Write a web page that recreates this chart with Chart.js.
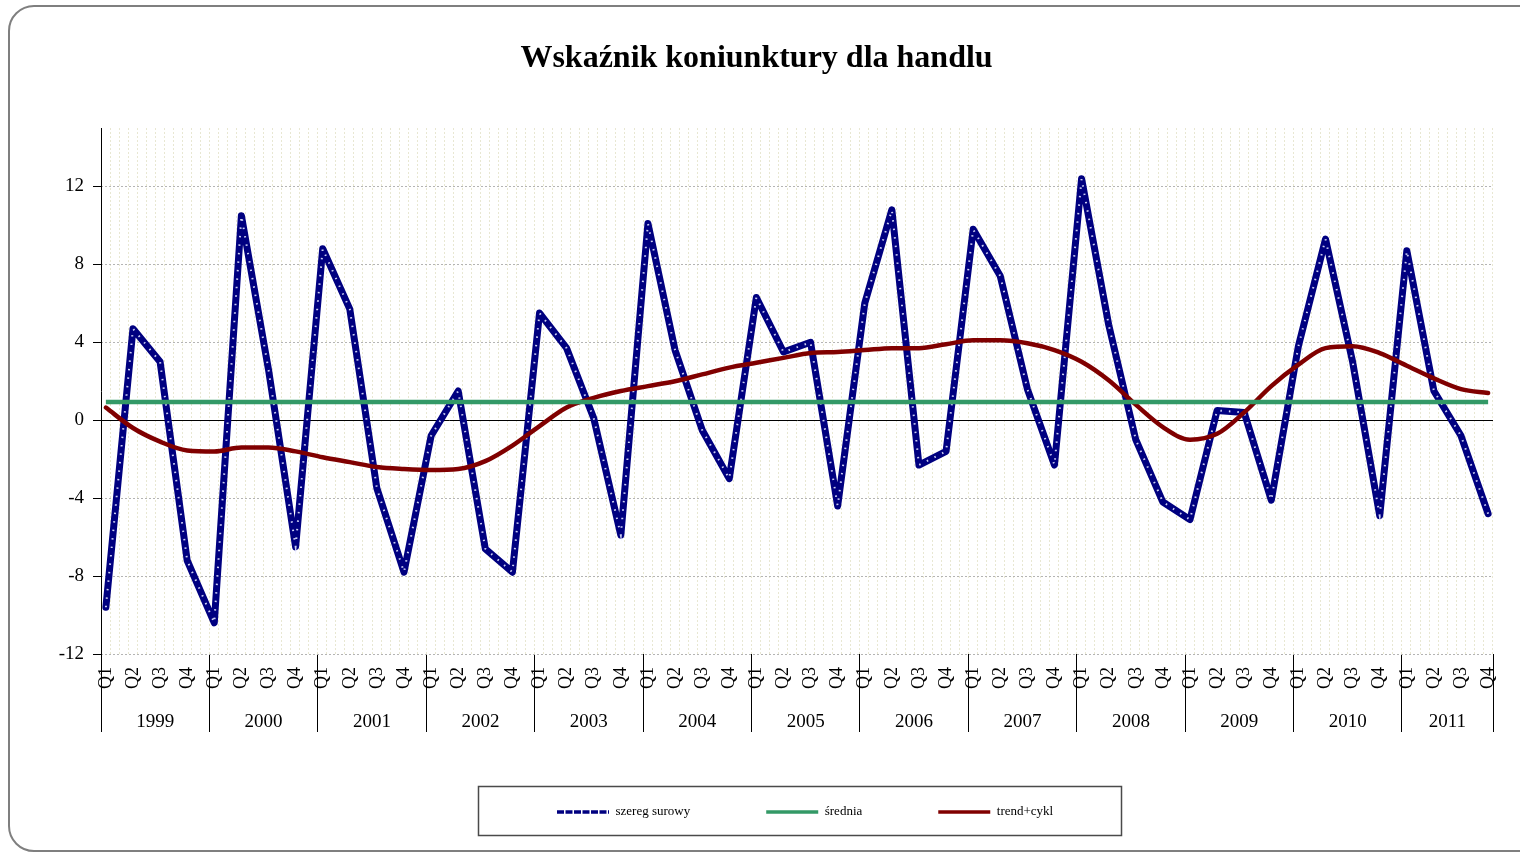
<!DOCTYPE html>
<html>
<head>
<meta charset="utf-8">
<script src="https://cdn.jsdelivr.net/npm/chart.js@4.4.1/dist/chart.umd.min.js"></script>
<style>
html, body { margin: 0; padding: 0; background: #fff; overflow: hidden; }
#frame { position: absolute; left: 8px; top: 5px; width: 1540px; height: 847px; box-sizing: border-box; border: 2px solid #7f7f7f; border-radius: 26px; }
#wrap { position: absolute; left: 0; top: 0; width: 1520px; height: 852px; }
</style>
</head>
<body>
<div id="frame"></div>
<div id="wrap"><canvas id="chart1" width="1520" height="852"></canvas></div>
<script>
var years = ['1999', '2000', '2001', '2002', '2003', '2004', '2005', '2006', '2007', '2008', '2009', '2010', '2011'];
var quarterNames = ['Q1', 'Q2', 'Q3', 'Q4'];

// szereg surowy
var surowy = [-9.6, 4.7, 3.0, -7.2, -10.4, 10.5, 2.6, -6.5, 8.8, 5.7, -3.5, -7.8,
              -0.8, 1.5, -6.6, -7.8, 5.5, 3.7, 0.1, -5.9, 10.1, 3.6, -0.5, -3.0,
              6.3, 3.5, 4.0, -4.4, 6.0, 10.8, -2.3, -1.6, 9.8, 7.4, 1.6, -2.3,
              12.4, 4.9, -1.0, -4.2, -5.1, 0.5, 0.4, -4.1, 3.8, 9.3, 3.0, -4.9,
              8.7, 1.5, -0.8, -4.8];

// srednia
var srednia = [0.94, 0.94, 0.94, 0.94, 0.94, 0.94, 0.94, 0.94, 0.94, 0.94, 0.94, 0.94,
               0.94, 0.94, 0.94, 0.94, 0.94, 0.94, 0.94, 0.94, 0.94, 0.94, 0.94, 0.94,
               0.94, 0.94, 0.94, 0.94, 0.94, 0.94, 0.94, 0.94, 0.94, 0.94, 0.94, 0.94,
               0.94, 0.94, 0.94, 0.94, 0.94, 0.94, 0.94, 0.94, 0.94, 0.94, 0.94, 0.94,
               0.94, 0.94, 0.94, 0.94];

// trend+cykl
var trendCykl = [0.65, -0.4, -1.1, -1.55, -1.6, -1.4, -1.4, -1.6, -1.9, -2.15, -2.4, -2.5,
                 -2.55, -2.5, -2.1, -1.3, -0.3, 0.65, 1.15, 1.5, 1.75, 2.0, 2.35, 2.7,
                 2.95, 3.2, 3.45, 3.5, 3.6, 3.7, 3.7, 3.9, 4.1, 4.1, 3.95, 3.6,
                 3.0, 2.05, 0.8, -0.35, -1.0, -0.7, 0.4, 1.75, 2.85, 3.7, 3.8, 3.45,
                 2.8, 2.15, 1.6, 1.4];

var yTicks = [-12, -8, -4, 0, 4, 8, 12];
var yMin = -12, yMax = 15;

var labels = [];
years.forEach(function (y) {
  quarterNames.forEach(function (q) { labels.push(q); });
});

var edge = 0.18;
var xMin = -edge, xMax = labels.length - 1 + edge;
var serif = "'Liberation Serif', 'Times New Roman', serif";

function pts(arr) {
  return arr.map(function (v, i) { return { x: i, y: v }; });
}

function fitH(h) {
  return function (ax) {
    ax.height = h;
    ax.paddingLeft = 0;
    ax.paddingRight = 0;
  };
}

// rysuje ramke legendy i ustawia jej pozycje
var legendBox = {
  id: 'legendBox',
  afterLayout: function (chart) {
    var l = chart.legend;
    l.left = 481;
    l.right = 1450;
    l.top = 812 - 76 - 6.5;
  },
  afterDraw: function (chart) {
    var c = chart.ctx;
    c.save();
    c.strokeStyle = '#4a4a4a';
    c.lineWidth = 1.5;
    c.strokeRect(478.5, 786.5, 643, 49);
    c.restore();
  }
};

Chart.defaults.font.family = serif;
Chart.defaults.color = '#000';

var ctx = document.getElementById('chart1').getContext('2d');
var myChart = new Chart(ctx, {
  type: 'line',
  data: {
    datasets: [
      {
        label: 'szereg surowy',
        data: pts(surowy),
        borderColor: '#000080',
        borderWidth: 7,
        borderJoinStyle: 'round',
        borderCapStyle: 'round',
        pointRadius: 0,
        order: 3
      },
      {
        label: 'overlay',
        data: pts(surowy),
        borderColor: 'rgba(225,228,255,0.9)',
        borderWidth: 2,
        borderDash: [1.5, 7],
        pointRadius: 0,
        order: 2
      },
      {
        label: 'średnia',
        data: pts(srednia),
        borderColor: '#339966',
        borderWidth: 4.5,
        pointRadius: 0,
        order: 0
      },
      {
        label: 'trend+cykl',
        data: pts(trendCykl),
        borderColor: '#800000',
        borderWidth: 4.5,
        borderCapStyle: 'round',
        cubicInterpolationMode: 'monotone',
        pointRadius: 0,
        order: 1
      }
    ]
  },
  options: {
    responsive: false,
    animation: false,
    events: [],
    layout: { padding: { left: 20, right: 27, top: 0, bottom: 25 } },
    plugins: {
      tooltip: { enabled: false },
      title: {
        display: true,
        text: 'Wskaźnik koniunktury dla handlu',
        color: '#000',
        font: { family: serif, size: 32, weight: 'bold' },
        padding: { top: 40, bottom: 49.6 }
      },
      legend: {
        display: true,
        position: 'bottom',
        align: 'start',
        labels: {
          usePointStyle: true,
          pointStyle: 'line',
          pointStyleWidth: 52,
          padding: 76,
          color: '#000',
          font: { family: serif, size: 13 },
          generateLabels: function (chart) {
            var out = [];
            chart.data.datasets.forEach(function (ds, i) {
              if (ds.label === 'overlay') return;
              out.push({
                text: ds.label,
                strokeStyle: ds.borderColor,
                fillStyle: ds.borderColor,
                lineWidth: 3.5,
                lineDash: i === 0 ? [7, 1.5] : [],
                pointStyle: 'line',
                fontColor: '#000',
                hidden: false,
                datasetIndex: i
              });
            });
            return out;
          }
        }
      }
    },
    scales: {
      xg: {
        type: 'linear', position: 'bottom', min: xMin, max: xMax,
        afterBuildTicks: function (ax) {
          var t = [];
          for (var k = 0; -edge + k / 3 <= xMax + 1e-6; k++) t.push({ value: -edge + k / 3 });
          ax.ticks = t;
        },
        afterFit: fitH(0),
        ticks: { display: false },
        grid: { color: '#e8e7d2', drawTicks: false },
        border: { display: false, dash: [2, 2] }
      },
      xb: {
        type: 'linear', position: 'bottom', min: xMin, max: xMax,
        afterBuildTicks: function (ax) {
          var t = years.map(function (y, k) { return { value: k * 4 - edge }; });
          t.push({ value: xMax });
          ax.ticks = t;
        },
        afterFit: fitH(0),
        ticks: { display: false },
        grid: { drawOnChartArea: false, drawTicks: true, tickLength: 78, color: '#000', lineWidth: 1 },
        border: { display: false }
      },
      y0: {
        type: 'linear', position: 'left', min: yMin, max: yMax,
        afterBuildTicks: function (ax) { ax.ticks = [{ value: 0 }]; },
        afterFit: function (ax) { ax.width = 0; },
        ticks: { display: false },
        grid: { color: '#000', lineWidth: 1, drawTicks: false },
        border: { display: true, color: '#000', width: 1 }
      },
      y: {
        type: 'linear', position: 'left', min: yMin, max: yMax,
        afterBuildTicks: function (ax) {
          ax.ticks = yTicks.map(function (v) { return { value: v }; });
        },
        afterFit: function (ax) { ax.width = 81; },
        ticks: {
          color: '#000', padding: 9,
          font: { family: serif, size: 19 },
          callback: function (v) { return String(v); }
        },
        grid: {
          color: function (c) { return c.tick && c.tick.value === 0 ? 'rgba(0,0,0,0)' : '#b4b4b4'; },
          tickColor: '#000', tickLength: 8, tickWidth: 1, drawTicks: true
        },
        border: { display: false, dash: [2, 2] }
      },
      x: {
        type: 'linear', position: 'bottom', min: xMin, max: xMax,
        afterBuildTicks: function (ax) {
          ax.ticks = labels.map(function (l, i) { return { value: i }; });
        },
        afterFit: fitH(40),
        ticks: {
          autoSkip: false, minRotation: 90, maxRotation: 90, padding: 13,
          color: '#000', font: { family: serif, size: 18 },
          callback: function (v, i) { return labels[i]; }
        },
        grid: { display: false, drawTicks: false },
        border: { display: false }
      },
      xy: {
        type: 'linear', position: 'bottom', min: xMin, max: xMax,
        afterBuildTicks: function (ax) {
          ax.ticks = years.map(function (y, k) {
            var a = k * 4 - edge, b = Math.min(k * 4 + 4 - edge, xMax);
            return { value: (a + b) / 2 };
          });
        },
        afterFit: fitH(34),
        ticks: {
          autoSkip: false, maxRotation: 0, padding: 17,
          color: '#000', font: { family: serif, size: 19 },
          callback: function (v, i) { return years[i]; }
        },
        grid: { display: false, drawTicks: false },
        border: { display: false }
      }
    }
  },
  plugins: [legendBox]
});
</script>
</body>
</html>
